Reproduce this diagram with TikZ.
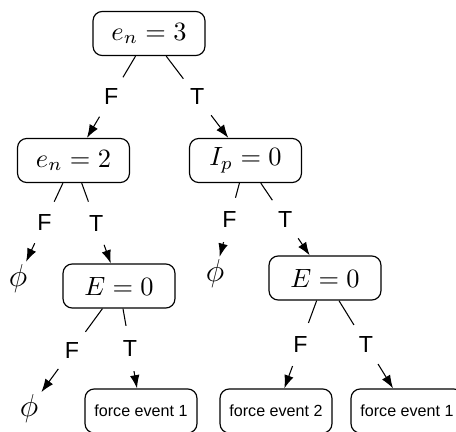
\documentclass[tikz,border=0pt]{standalone}
\usepackage{fontspec}
\setsansfont{Liberation Sans}
\usetikzlibrary{arrows.meta}
\begin{document}
\begin{tikzpicture}[x=0.3788pt,y=-0.3788pt,
  box/.style={draw, rounded corners=3.5pt, minimum width=42.4pt, minimum height=16.7pt, inner sep=0pt, line width=0.45pt},
  leaf/.style={box, font=\sffamily\fontsize{6.1}{7}\selectfont},
  emptyset/.style={inner sep=1pt, font=\large},
  lab/.style={circle, minimum size=17pt, inner sep=0pt, font=\sffamily\fontsize{8.8}{10}\selectfont},
  arr/.style={-{Latex[length=5pt,width=3.6pt]}},
  line width=0.4pt]
\useasboundingbox (0,0) rectangle (456,432);
\clip (0,0) rectangle (456,432);
\node[box] (r) at (149,33.5) {$e_n=3$};
\node[box] (a) at (73.5,160.5) {$e_n=2$};
\node[box] (b) at (245.5,160.5) {$I_p=0$};
\node[emptyset] (pa) at (18,279) {$\phi$};
\node[box] (c) at (119,286) {$E=0$};
\node[emptyset] (pb) at (215,274) {$\phi$};
\node[box] (d) at (325,278) {$E=0$};
\node[emptyset] (pc) at (29,409) {$\phi$};
\node[leaf] (f1) at (141,411) {force event 1};
\node[leaf] (f2) at (276,411) {force event 2};
\node[leaf] (f3) at (407,411) {force event 1};
\foreach \p/\c/\t/\n in {r/a/F/1, r/b/T/2, a/pa/F/3, a/c/T/4, b/pb/F/5, b/d/T/6, c/pc/F/7, c/f1/T/8, d/f2/F/9, d/f3/T/10}{
  \path (\p) -- (\c) node[lab, pos=0.5] (l\n) {\t};
  \draw (\p) -- (l\n);
  \draw[arr] (l\n) -- (\c);
}
\end{tikzpicture}
\end{document}
